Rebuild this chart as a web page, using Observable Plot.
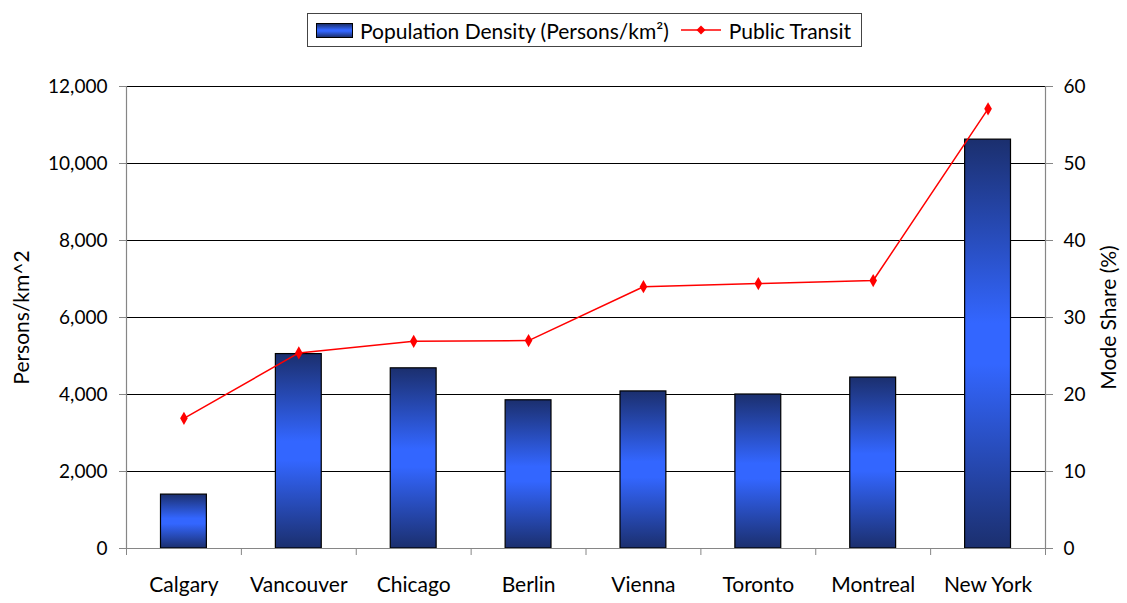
<!DOCTYPE html>
<html>
<head>
<meta charset="utf-8">
<script src="https://cdn.jsdelivr.net/npm/d3@7"></script>
<script src="https://cdn.jsdelivr.net/npm/@observablehq/plot@0.6"></script>
<style>
  html, body { margin: 0; padding: 0; background: #fff; }
  body { width: 1127px; height: 603px; overflow: hidden; font-family: Lato, "Liberation Sans", sans-serif; }
  #top { position: relative; height: 47px; }
  #legend { position: absolute; left: 307px; top: 13px; width: 555px; height: 34px; box-sizing: border-box;
    border: 1px solid #444; display: flex; align-items: center; font-size: 21px; color: #000; white-space: nowrap; }
  #legend .sw { width: 35px; height: 13px; border: 1px solid #000; margin-left: 8px; margin-right: 7px;
    background: linear-gradient(to bottom, #1b2f6e 0%, #3366ff 45%, #3366ff 55%, #1b2f6e 100%); }
  #legend svg { margin-left: 12px; margin-right: 8px; }
</style>
</head>
<body>
<div id="top">
  <div id="legend">
    <div class="sw"></div><span>Population Density (Persons/km²)</span>
    <svg width="40" height="14"><line x1="0" y1="7" x2="40" y2="7" stroke="#ff0000" stroke-width="1.5"/><path d="M20,2.5L24.5,7L20,11.5L15.5,7Z" fill="#ff0000"/></svg>
    <span>Public Transit</span>
  </div>
</div>
<div id="chart"></div>
<script>
const cities = ["Calgary", "Vancouver", "Chicago", "Berlin", "Vienna", "Toronto", "Montreal", "New York"];
const density = [1400, 5050, 4680, 3850, 4080, 4000, 4440, 10620];
const transit = [16.9, 25.4, 26.9, 27.0, 34.0, 34.4, 34.8, 57.1];
const leftTicks = [0, 2000, 4000, 6000, 8000, 10000, 12000];
const rightTicks = [0, 10, 20, 30, 40, 50, 60];
const leftLabel = "Persons/km^2";
const rightLabel = "Mode Share (%)";

const ratio = leftTicks[leftTicks.length - 1] / rightTicks[rightTicks.length - 1];
const data = cities.map((c, i) => ({city: c, i, density: density[i], transit: transit[i]}));
const bounds = cities.map((c, i) => i).concat([cities.length]);
const centers = cities.map((c, i) => i + 0.5);

const font = "Lato, 'Liberation Sans', sans-serif";

const plot = Plot.plot({
  width: 1127,
  height: 556,
  marginTop: 39,
  marginBottom: 55,
  marginLeft: 126,
  marginRight: 82,
  style: {fontFamily: font, fontSize: "19px", color: "#000", background: "#fff"},
  x: {type: "linear", domain: [0, cities.length]},
  y: {domain: [0, leftTicks[leftTicks.length - 1]]},
  marks: [
    Plot.gridY(leftTicks, {stroke: "#000", strokeOpacity: 1, strokeWidth: 1}),
    Plot.rectY(data, {x1: "i", x2: d => d.i + 1, y: "density", insetLeft: 34.5, insetRight: 34.5,
      fill: "url(#barGrad)", stroke: "#000", strokeWidth: 1.2}),
    Plot.ruleX([0, cities.length], {stroke: "#868686", strokeWidth: 1.2}),
    Plot.ruleY([0], {stroke: "#868686", strokeWidth: 1.2}),
    Plot.axisY(leftTicks, {anchor: "left", tickSize: 7, tickPadding: 12, tickFormat: d3.format(","),
      stroke: "#868686", fontSize: 19, label: null}),
    Plot.axisY(rightTicks.map(v => v * ratio), {anchor: "right", tickSize: 7, tickPadding: 11,
      tickFormat: d => d / ratio, stroke: "#868686", fontSize: 19, label: null}),
    Plot.axisX(bounds, {anchor: "bottom", tickSize: 7, tickFormat: () => "", stroke: "#868686", label: null}),
    Plot.axisX(centers, {anchor: "bottom", tickSize: 0, tickPadding: 29, tickFormat: d => cities[Math.round(d - 0.5)],
      fontSize: 21, label: null}),
    Plot.line(data, {x: d => d.i + 0.5, y: d => d.transit * ratio, stroke: "#ff0000", strokeWidth: 1.5}),
    Plot.dot(data, {x: d => d.i + 0.5, y: d => d.transit * ratio, symbol: "diamond", r: 4, fill: "#ff0000", stroke: "none"}),
    Plot.text([leftLabel], {frameAnchor: "left", textAnchor: "middle", rotate: -90, dx: -104, fontSize: 21, fill: "#000"}),
    Plot.text([rightLabel], {frameAnchor: "right", textAnchor: "middle", rotate: -90, dx: 64, fontSize: 21, fill: "#000"})
  ]
});

const ns = "http://www.w3.org/2000/svg";
const defs = document.createElementNS(ns, "defs");
defs.innerHTML = `<linearGradient id="barGrad" x1="0" y1="0" x2="0" y2="1">
  <stop offset="0" stop-color="#1b2f6e"/>
  <stop offset="0.45" stop-color="#3366ff"/>
  <stop offset="0.55" stop-color="#3366ff"/>
  <stop offset="1" stop-color="#1b2f6e"/>
</linearGradient>`;
plot.insertBefore(defs, plot.firstChild);
document.getElementById("chart").appendChild(plot);
</script>
</body>
</html>
